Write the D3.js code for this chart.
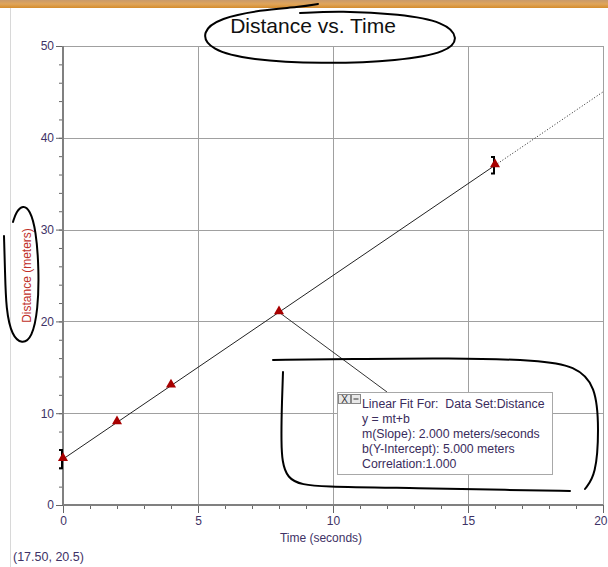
<!DOCTYPE html>
<html>
<head>
<meta charset="utf-8">
<script src="https://cdn.jsdelivr.net/npm/d3@7"></script>
<style>
  html, body { margin: 0; padding: 0; background: #fff; }
  svg { display: block; font-family: "Liberation Sans", Arial, sans-serif; }
  .readout { white-space: pre; }
</style>
</head>
<body>
<svg id="chart" width="608" height="567"></svg>
<script>
// Measured data set
const times = [0, 2, 4, 8, 16];
const distances = [5, 9, 13, 21, 37];
const errors = [1, 0, 0, 0, 0.9];

// Linear fit parameters
const slope = 2.0;
const intercept = 5.0;
const fitSolidEnd = 16;

// Axis ticks
const xMajor = [0, 5, 10, 15, 20];
const xMinor = d3.range(0, 21, 1);
const yMajor = [0, 10, 20, 30, 40, 50];
const yMinor = d3.range(0, 51, 2);

// Fit readout text
const fitLines = [
  "Linear Fit For:  Data Set:Distance",
  "y = mt+b",
  "m(Slope): 2.000 meters/seconds",
  "b(Y-Intercept): 5.000 meters",
  "Correlation:1.000"
];

const svg = d3.select("#chart");
const x = d3.scaleLinear().domain([0, 20]).range([63, 603]);
const y = d3.scaleLinear().domain([0, 50]).range([505, 46]);

// window header strip
const defs = svg.append("defs");
const grad = defs.append("linearGradient").attr("id", "bar").attr("x1", 0).attr("x2", 0).attr("y1", 0).attr("y2", 1);
grad.append("stop").attr("offset", "0%").attr("stop-color", "#c99a6a");
grad.append("stop").attr("offset", "50%").attr("stop-color", "#e0a55a");
grad.append("stop").attr("offset", "100%").attr("stop-color", "#d48c2c");
svg.append("rect").attr("x", 0).attr("y", 0).attr("width", 608).attr("height", 8).attr("fill", "url(#bar)");
svg.append("line").attr("x1", 10.5).attr("x2", 10.5).attr("y1", 8).attr("y2", 567)
  .attr("stroke", "#d8d8d8").attr("stroke-width", 1);

// grid
const grid = svg.append("g");
grid.selectAll("line.v").data(xMajor.filter(d => d > 0)).join("line")
  .attr("x1", d => Math.round(x(d)) + 0.5).attr("x2", d => Math.round(x(d)) + 0.5)
  .attr("y1", y(50)).attr("y2", y(0))
  .attr("stroke", "#a0a0a0").attr("stroke-width", 1);
grid.selectAll("line.h").data(yMajor.filter(d => d > 0)).join("line")
  .attr("x1", x(0)).attr("x2", x(20))
  .attr("y1", d => Math.round(y(d)) + 0.5).attr("y2", d => Math.round(y(d)) + 0.5)
  .attr("stroke", "#a0a0a0").attr("stroke-width", 1);

// axes
const labelColor = "#3e3266";
function styleAxis(g) {
  g.select(".domain").remove();
  g.selectAll(".tick line").attr("stroke", "#666").attr("stroke-width", 1);
  g.selectAll("text").attr("fill", labelColor).attr("font-size", 12)
    .attr("font-family", "'Liberation Sans', Arial, sans-serif");
}
svg.append("g").attr("transform", `translate(0,${y(0)})`)
  .call(d3.axisBottom(x).tickValues(xMinor).tickSize(4).tickFormat(""))
  .call(styleAxis);
const xAxisG = svg.append("g").attr("transform", `translate(0,${y(0)})`)
  .call(d3.axisBottom(x).tickValues(xMajor).tickSize(8).tickPadding(3).tickFormat(d3.format("d")))
  .call(styleAxis);
// keep the last label inside the window edge
xAxisG.selectAll(".tick text").filter(d => d === 20).attr("text-anchor", "end").attr("dx", 4);
svg.append("g").attr("transform", `translate(${x(0)},0)`)
  .call(d3.axisLeft(y).tickValues(yMinor).tickSize(4).tickFormat(""))
  .call(styleAxis);
svg.append("g").attr("transform", `translate(${x(0)},0)`)
  .call(d3.axisLeft(y).tickValues(yMajor).tickSize(7).tickPadding(2).tickFormat(d3.format("d")))
  .call(styleAxis);

// axis lines
svg.append("line").attr("x1", x(0)).attr("x2", x(20)).attr("y1", y(0)).attr("y2", y(0))
  .attr("stroke", "#808080").attr("stroke-width", 2);
svg.append("line").attr("x1", x(0)).attr("x2", x(0)).attr("y1", y(50)).attr("y2", y(0))
  .attr("stroke", "#808080").attr("stroke-width", 2);

// axis titles
svg.append("text").attr("x", 321).attr("y", 542).attr("text-anchor", "middle")
  .attr("font-size", 12).attr("fill", labelColor).text("Time (seconds)");
svg.append("text").attr("transform", `translate(31,${y(25)}) rotate(-90)`).attr("text-anchor", "middle")
  .attr("font-size", 12).attr("fill", "#c0302a").text("Distance (meters)");

// chart title
svg.append("text").attr("x", 313).attr("y", 33).attr("text-anchor", "middle")
  .attr("font-size", 21).attr("fill", "#111").text("Distance vs. Time");

// fitted line: solid over the data, dotted beyond
svg.append("line")
  .attr("x1", x(0)).attr("y1", y(intercept))
  .attr("x2", x(fitSolidEnd)).attr("y2", y(slope * fitSolidEnd + intercept))
  .attr("stroke", "#222").attr("stroke-width", 1);
svg.append("line")
  .attr("x1", x(fitSolidEnd)).attr("y1", y(slope * fitSolidEnd + intercept))
  .attr("x2", x(20)).attr("y2", y(slope * 20 + intercept))
  .attr("stroke", "#222").attr("stroke-width", 1).attr("stroke-dasharray", "1,2");

// connector from fit to the readout box
const pts = times.map((t, i) => ({ t, d: distances[i], e: errors[i] }));
const anchor = pts[3];
svg.append("line").attr("x1", x(anchor.t)).attr("y1", y(anchor.d))
  .attr("x2", 387).attr("y2", 392).attr("stroke", "#333").attr("stroke-width", 1);

// error bars
const eb = svg.append("g").attr("stroke", "#000").attr("stroke-width", 2).attr("fill", "none");
pts.filter(p => p.e > 0).forEach(p => {
  const cx = Math.round(x(p.t)) - 1;
  eb.append("path").attr("d",
    `M${cx - 3},${y(p.d + p.e)}H${cx}V${y(p.d - p.e)}H${cx - 3}`);
});

// data markers
const tri = d3.symbol().type(d3.symbolTriangle).size(44);
svg.append("g").selectAll("path").data(pts).join("path")
  .attr("d", tri)
  .attr("transform", p => `translate(${x(p.t)},${y(p.d) - 1})`)
  .attr("fill", "#a80000");

// readout box
const bx = 337, by = 392, bw = 215, bh = 82;
svg.append("rect").attr("x", bx + 0.5).attr("y", by + 0.5).attr("width", bw).attr("height", bh)
  .attr("fill", "#fff").attr("stroke", "#a8a8a8").attr("stroke-width", 1);
// close / minimize buttons
svg.append("rect").attr("x", bx + 1.5).attr("y", by + 2.5).attr("width", 12).attr("height", 9)
  .attr("fill", "#e8e8e8").attr("stroke", "#888");
svg.append("text").attr("x", bx + 7.5).attr("y", by + 10.5).attr("text-anchor", "middle")
  .attr("font-size", 10).attr("fill", "#333").text("X");
svg.append("rect").attr("x", bx + 14.5).attr("y", by + 2.5).attr("width", 9).attr("height", 9)
  .attr("fill", "#e8e8e8").attr("stroke", "#888");
svg.append("line").attr("x1", bx + 16.5).attr("x2", bx + 21.5).attr("y1", by + 7).attr("y2", by + 7)
  .attr("stroke", "#333");
svg.append("g").selectAll("text").data(fitLines).join("text")
  .attr("class", "readout")
  .attr("x", 362).attr("y", (d, i) => 408 + i * 15)
  .attr("font-size", 12.3).attr("fill", "#3a2c5c").text(d => d);

// cursor readout
svg.append("text").attr("x", 13).attr("y", 561).attr("font-size", 12.5)
  .attr("fill", labelColor).text("(17.50, 20.5)");

// freehand pen marks
const pen = d3.line().curve(d3.curveBasis);
const marks = [
  [[318,4],[300,7],[260,10],[220,18],[201,32],[210,50],[250,60],[320,64],[400,61],[448,52],[459,38],[445,22],[400,14],[340,11],[300,13]],
  [[4,236],[5,270],[6,310],[12,336],[22,344],[32,338],[38,310],[39,270],[36,230],[30,210],[23,205],[16,212],[13,222]],
  [[273,360],[350,359],[450,358],[540,360],[575,366],[596,385],[599,430],[596,475],[585,489]],
  [[283,372],[282,400],[281,440],[283,483],[320,487],[420,488],[510,490],[570,491]]
];
svg.append("g").selectAll("path").data(marks).join("path")
  .attr("d", pen).attr("fill", "none").attr("stroke", "#000")
  .attr("stroke-width", 2).attr("stroke-linecap", "round");
</script>
</body>
</html>
